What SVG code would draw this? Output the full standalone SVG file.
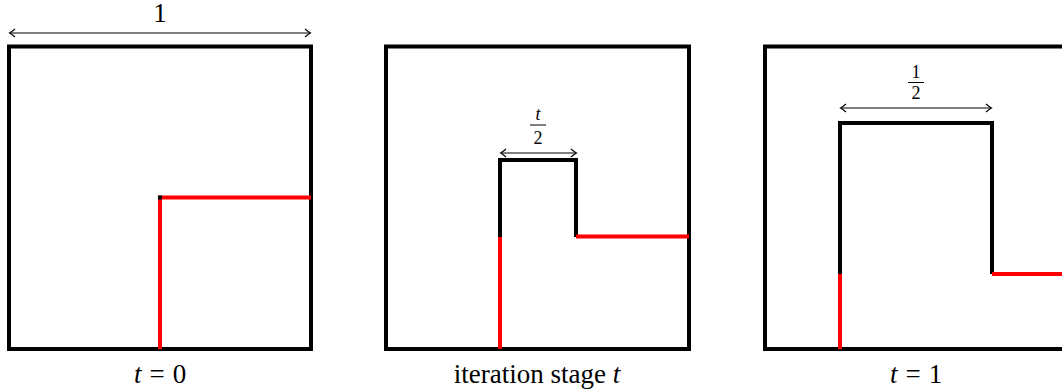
<svg xmlns="http://www.w3.org/2000/svg" width="1062" height="389" viewBox="0 0 1062 389">
<style>
.sq{fill:none;stroke:#000;stroke-width:4}
.blk{fill:none;stroke:#000;stroke-width:4;stroke-linejoin:miter}
.red{fill:none;stroke:#ff0000;stroke-width:4}
.dim{fill:none;stroke:#000;stroke-width:1.2;marker-start:url(#ah);marker-end:url(#ah)}
.lbl{font-family:"Liberation Serif","Times New Roman",serif;font-size:27px;fill:#000;text-anchor:middle}
.frac{font-family:"Liberation Serif","Times New Roman",serif;font-size:18px;fill:#000;text-anchor:middle}
.it{font-style:italic}
</style>
<defs>
<marker id="ah" viewBox="-6 -5 8 10" markerWidth="8" markerHeight="10" refX="0" refY="0" orient="auto-start-reverse" markerUnits="userSpaceOnUse">
<path d="M-5,-4 Q-1.5,-1 0.5,0 Q-1.5,1 -5,4" fill="none" stroke="#000" stroke-width="1.1"/>
</marker>
</defs>
<g id="panel1">
<rect class="sq" x="9" y="46.5" width="302" height="302.5"/>
<path class="red" d="M160,349 V197.5 H311"/>
<rect x="158" y="195.5" width="4" height="4" fill="#000"/>
<line class="dim" x1="10" y1="33" x2="310" y2="33"/>
<text class="lbl" x="160" y="22">1</text>
<text class="lbl" x="160" y="383"><tspan class="it">t</tspan><tspan dx="8">=</tspan><tspan dx="8">0</tspan></text>
</g>
<g id="panel2">
<rect class="sq" x="386" y="46.5" width="303" height="302.5"/>
<path class="blk" d="M500,237 V160 H576 V237"/>
<path class="red" d="M500,349 V237"/>
<path class="red" d="M576,236.5 H689"/>
<line class="dim" x1="501" y1="153" x2="576" y2="153"/>
<text class="frac it" x="538" y="120">t</text>
<line x1="530" y1="125" x2="546" y2="125" stroke="#000" stroke-width="1"/>
<text class="frac" x="538" y="144">2</text>
<text class="lbl" x="537" y="383">iteration stage <tspan class="it">t</tspan></text>
</g>
<g id="panel3">
<rect class="sq" x="765" y="46.5" width="303" height="302.5"/>
<path class="blk" d="M840,274 V123 H992 V274"/>
<path class="red" d="M840,349 V274"/>
<path class="red" d="M992,274 H1068"/>
<line class="dim" x1="841" y1="108" x2="991" y2="108"/>
<text class="frac" x="916" y="78">1</text>
<line x1="908" y1="82.5" x2="924" y2="82.5" stroke="#000" stroke-width="1"/>
<text class="frac" x="916" y="99">2</text>
<text class="lbl" x="916" y="383"><tspan class="it">t</tspan><tspan dx="8">=</tspan><tspan dx="8">1</tspan></text>
</g>
<g id="connectors"></g>
</svg>
